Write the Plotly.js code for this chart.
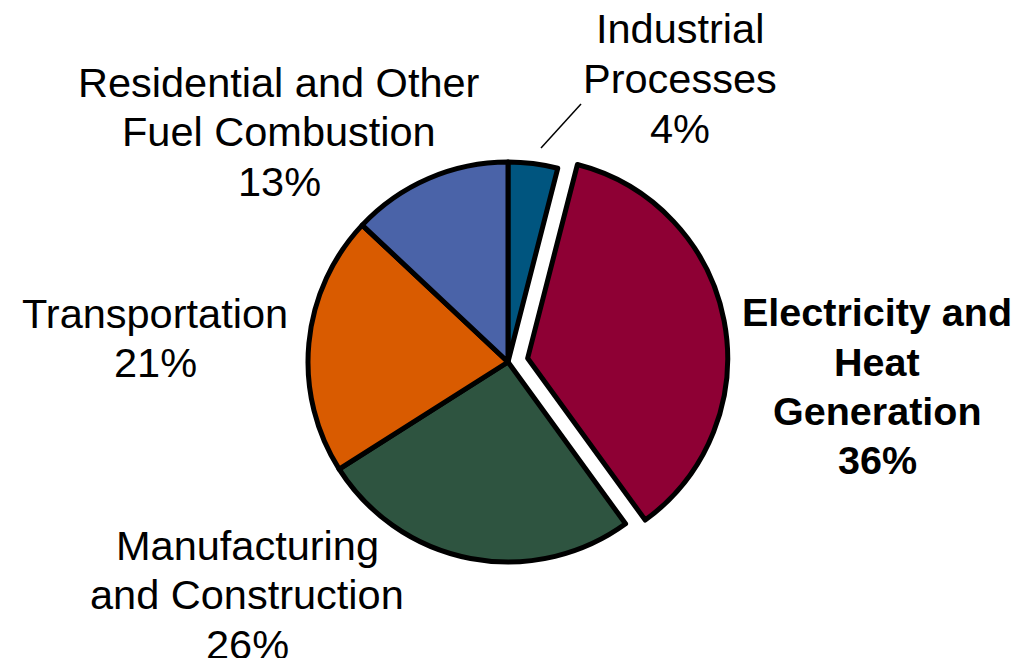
<!DOCTYPE html>
<html>
<head>
<meta charset="utf-8">
<script src="https://cdn.plot.ly/plotly-3.0.1.min.js"></script>
<style>html,body{margin:0;padding:0;background:#fff;}#chart{width:1030px;height:658px;}</style>
</head>
<body>
<div id="chart"></div>
<script>
// Data
const categories = ["Industrial Processes", "Electricity and Heat Generation", "Manufacturing and Construction", "Transportation", "Residential and Other Fuel Combustion"];
const shares = [4, 36, 26, 21, 13];
const labelLines = [
  ["Industrial", "Processes", "4%"],
  ["Electricity and", "Heat", "Generation", "36%"],
  ["Manufacturing", "and Construction", "26%"],
  ["Transportation", "21%"],
  ["Residential and Other", "Fuel Combustion", "13%"]
];
const colors = ["#00557F", "#8E0034", "#2E5440", "#D95B00", "#4A63A8"];
const pulls = [0, 0.1, 0, 0, 0];

// Layout helpers (pixel positions of label blocks)
const W = 1030, H = 658;
const labelPos = [
  {x: 680, y: 29},
  {x: 877, y: 312},
  {x: 247, y: 545},
  {x: 155, y: 313},
  {x: 279, y: 82}
];
const lineGap = 49.5;
const bold = [false, true, false, false, false];

const annotations = [];
labelLines.forEach((lines, i) => {
  lines.forEach((ln, j) => {
    annotations.push({
      xref: 'paper', yref: 'paper',
      x: labelPos[i].x / W, y: 1 - (labelPos[i].y + j * lineGap) / H,
      xanchor: 'center', yanchor: 'middle',
      text: bold[i] ? '<b>' + ln + '</b>' : ln,
      showarrow: false,
      font: {family: 'Liberation Sans, Arial, sans-serif', size: bold[i] ? 39.5 : 41.5, color: '#000'}
    });
  });
});

const cx = 508, cy = 362, half = 220;
const trace = {
  type: 'pie',
  labels: categories,
  values: shares,
  sort: false,
  direction: 'clockwise',
  rotation: 0,
  pull: pulls,
  textinfo: 'none',
  hoverinfo: 'label+percent',
  marker: {colors: colors, line: {color: '#000', width: 5}},
  domain: {x: [(cx - half) / W, (cx + half) / W], y: [1 - (cy + half) / H, 1 - (cy - half) / H]}
};

const layout = {
  width: W, height: H,
  margin: {l: 0, r: 0, t: 0, b: 0},
  paper_bgcolor: '#fff',
  showlegend: false,
  annotations: annotations,
  shapes: [{
    type: 'line', xref: 'paper', yref: 'paper',
    x0: 541 / W, y0: 1 - 148 / H, x1: 581 / W, y1: 1 - 104 / H,
    line: {color: '#000', width: 1.5}
  }]
};

Plotly.newPlot('chart', [trace], layout, {displayModeBar: false, staticPlot: true});
</script>
</body>
</html>
